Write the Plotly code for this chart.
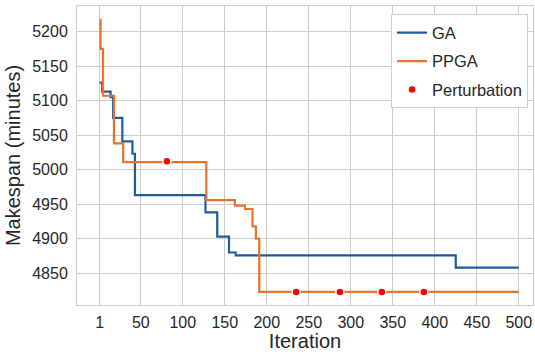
import plotly.graph_objects as go

# GA best makespan (change points, step-after)
ga_iter = [1, 4, 14, 17, 28, 40, 43, 127, 141, 155, 163, 425, 500]
ga_val = [5126, 5113, 5105, 5075, 5041, 5023, 4963, 4938, 4903, 4880, 4876, 4858, 4858]

# PPGA best makespan (change points, step-after)
ppga_iter = [1, 2, 5, 18, 29, 128, 162, 174, 183, 187, 191, 500]
ppga_val = [5217, 5175, 5107, 5038, 5011, 4956, 4948, 4943, 4918, 4900, 4823, 4823]

# Perturbation events
pert_iter = [81, 235, 287, 337, 387]
pert_val = [5012, 4823, 4823, 4823, 4823]

x_ticks = [1, 50, 100, 150, 200, 250, 300, 350, 400, 450, 500]
y_ticks = [4850, 4900, 4950, 5000, 5050, 5100, 5150, 5200]

BLUE = "#1f5c9c"
ORANGE = "#e4742f"
GRID = "#cccccc"
TEXT = "#262626"
FONT = "Liberation Sans, Arial, sans-serif"

fig = go.Figure()
fig.add_trace(go.Scatter(x=ga_iter, y=ga_val, mode="lines", name="GA",
                         line=dict(color=BLUE, width=2.2, shape="hv"),
                         legendgroup="a"))
fig.add_trace(go.Scatter(x=ppga_iter, y=ppga_val, mode="lines", name="PPGA",
                         line=dict(color=ORANGE, width=2.2, shape="hv"),
                         legendgroup="b"))
fig.add_trace(go.Scatter(x=pert_iter, y=pert_val, mode="markers", name="Perturbation",
                         marker=dict(color="#ff0000", size=8,
                                     line=dict(color="white", width=1.5)),
                         legendgroup="c"))

fig.update_layout(
    width=535, height=352,
    margin=dict(l=77, r=2, t=6, b=47, autoexpand=False),
    paper_bgcolor="white", plot_bgcolor="white",
    font=dict(family=FONT, size=16, color=TEXT),
    showlegend=True,
    legend=dict(x=0.989, y=0.972, xanchor="right", yanchor="top",
                bgcolor="white", bordercolor="#d0d0d0", borderwidth=1,
                font=dict(size=16.5, color=TEXT),
                tracegroupgap=4, traceorder="grouped"),
)
fig.update_xaxes(
    range=[-26, 517], tickvals=x_ticks, automargin=False,
    title=dict(text="Iteration", font=dict(size=20), standoff=1),
    showgrid=True, gridcolor=GRID, gridwidth=1,
    showline=True, linecolor=GRID, linewidth=1, mirror=True,
    zeroline=False, ticks="", tickfont=dict(size=16), ticklabelstandoff=3,
)
fig.update_yaxes(
    range=[4804, 5237], tickvals=y_ticks, automargin=False,
    title=dict(text="Makespan (minutes)", font=dict(size=20), standoff=6),
    showgrid=True, gridcolor=GRID, gridwidth=1,
    showline=True, linecolor=GRID, linewidth=1, mirror=True,
    zeroline=False, ticks="", tickfont=dict(size=16), ticklabelstandoff=5,
)

fig.write_html("out.html",
               config={"displayModeBar": False},
               post_script="document.body.style.margin='0px';document.body.style.overflow='hidden';")
